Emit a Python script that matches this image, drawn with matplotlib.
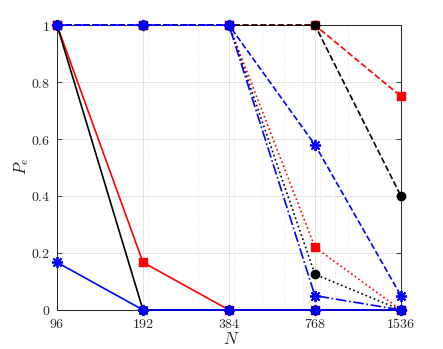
import matplotlib
matplotlib.use("Agg")
import matplotlib.pyplot as plt
from matplotlib.ticker import FixedLocator, FixedFormatter, NullFormatter

plt.rcParams['mathtext.fontset'] = 'cm'
plt.rcParams['font.family'] = ['DejaVu Serif']

N = [96, 192, 384, 768, 1536]
xtick_labels = ['96', '192', '384', '768', '1536']
yticks = [0, 0.2, 0.4, 0.6, 0.8, 1]
ytick_labels = ['0', '0.2', '0.4', '0.6', '0.8', '1']

# solid
red_solid = [1, 0.167, 0, 0, 0]
black_solid = [1, 0, 0, 0, 0]
blue_solid = [0.167, 0, 0, 0, 0]
# dotted
red_dotted = [1, 1, 1, 0.22, 0]
black_dotted = [1, 1, 1, 0.125, 0]
# dash-dot
blue_dashdot = [1, 1, 1, 0.05, 0]
# dashed
red_dashed = [1, 1, 1, 1, 0.75]
black_dashed = [1, 1, 1, 1, 0.40]
blue_dashed = [1, 1, 1, 0.58, 0.05]

fig = plt.figure(figsize=(4.43, 3.49), dpi=100)
ax = fig.add_axes([0.1287, 0.112, 0.7763, 0.816])
ax.set_xscale('log', base=2)

lw = 1.2
ms = 6
red = (1, 0, 0)
blue = (0, 0, 1)
ast = (8, 2, 0)

series = [
    (red_dashed, red, '--', 's'),
    (black_dashed, 'k', '--', 'o'),
    (red_dotted, red, ':', 's'),
    (black_dotted, 'k', ':', 'o'),
    (red_solid, red, '-', 's'),
    (black_solid, 'k', '-', 'o'),
    (blue_dashed, blue, '--', ast),
    (blue_dashdot, blue, '-.', ast),
    (blue_solid, blue, '-', ast),
]
for y, c, ls, m in series:
    if m == ast:
        ax.plot(N, y, color=c, linestyle=ls, linewidth=lw, marker=m,
                markersize=8, markeredgewidth=1.3, markeredgecolor=c, clip_on=False, zorder=3)
    else:
        ax.plot(N, y, color=c, linestyle=ls, linewidth=lw, marker=m,
                markersize=ms, markerfacecolor=c, markeredgecolor=c, clip_on=False, zorder=3)

ax.set_xlim(96, 1536)
ax.set_ylim(0, 1)
ax.xaxis.set_major_locator(FixedLocator(N))
ax.xaxis.set_major_formatter(FixedFormatter(['$' + s + '$' for s in xtick_labels]))
ax.xaxis.set_minor_locator(FixedLocator([100, 200, 300, 400, 500, 600, 700, 800, 900, 1000]))
ax.xaxis.set_minor_formatter(NullFormatter())
ax.set_yticks(yticks)
ax.set_yticklabels(['$' + s + '$' for s in ytick_labels])

ax.grid(True, which='major', color=(0.89, 0.89, 0.89), linewidth=0.7, linestyle='-')
ax.grid(True, which='minor', axis='x', color=(0.9, 0.9, 0.9), linewidth=0.6, linestyle=(0, (2, 2)))
ax.set_axisbelow(True)

ax.tick_params(which='both', direction='in', top=True, right=True, labelsize=10,
               colors=(0.15, 0.15, 0.15), length=3.5, width=0.6)
ax.tick_params(axis='x', which='major', pad=5)
ax.tick_params(axis='y', which='major', pad=5)
ax.tick_params(which='minor', length=0)
for s in ax.spines.values():
    s.set_color((0.15, 0.15, 0.15))
    s.set_linewidth(0.7)

ax.set_xlabel('$N$', fontsize=12, color=(0.15, 0.15, 0.15))
ax.set_ylabel('$P_e$', fontsize=12, color=(0.15, 0.15, 0.15))
ax.xaxis.set_label_coords(0.506, -0.105, transform=ax.transAxes)
ax.yaxis.set_label_coords(-0.103, 0.505, transform=ax.transAxes)
ax.xaxis.label.set_verticalalignment('center')
ax.yaxis.label.set_verticalalignment('center')

fig.savefig('out.png', dpi=100)
